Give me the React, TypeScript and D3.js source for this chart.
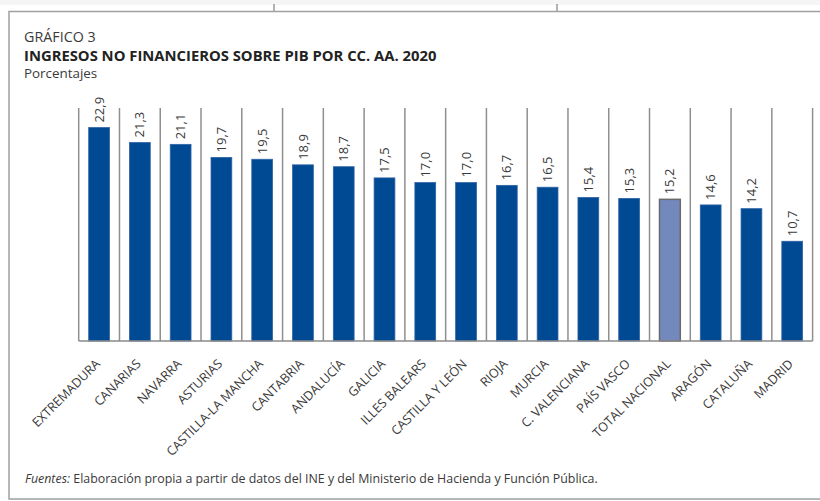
import React, { useEffect } from 'react';
import * as d3 from 'd3';

// Comunidades autónomas (orden del gráfico)
const regions = [
  'EXTREMADURA', 'CANARIAS', 'NAVARRA', 'ASTURIAS', 'CASTILLA-LA MANCHA', 'CANTABRIA',
  'ANDALUCÍA', 'GALICIA', 'ILLES BALEARS', 'CASTILLA Y LEÓN', 'RIOJA', 'MURCIA',
  'C. VALENCIANA', 'PAÍS VASCO', 'TOTAL NACIONAL', 'ARAGÓN', 'CATALUÑA', 'MADRID',
];
// ingresos no financieros sobre PIB, %
const values = [22.9, 21.3, 21.1, 19.7, 19.5, 18.9, 18.7, 17.5, 17.0, 17.0, 16.7, 16.5, 15.4, 15.3, 15.2, 14.6, 14.2, 10.7];
const highlight = ['TOTAL NACIONAL'];

const W = 820;
const H = 501;
const FONT = '"Open Sans", "Noto Sans", sans-serif';
const TXT = '#3a3a3a';

export default function App() {
  useEffect(() => {
    document.body.style.margin = '0';
  }, []);

  const x = d3.scaleBand<string>()
    .domain(regions)
    .range([78.7, 812.6])
    .paddingInner(0.49)
    .paddingOuter(0.245);

  const y = d3.scaleLinear()
    .domain([0, 25])
    .range([341, 108]);

  const step = x.step();
  const x0 = 78.7;
  const fmt = (v: number) => d3.format('.1f')(v).replace('.', ',');

  return (
    <svg width={W} height={H} style={{ display: 'block', background: '#fff' }} fontFamily={FONT}>
      {/* tira superior de la página */}
      <rect x={0} y={0} width={W} height={5} fill="#f5f5f5" />
      <line x1={274} x2={274} y1={4} y2={11} stroke="#999" strokeWidth={1.5} />
      <line x1={557} x2={557} y1={4} y2={11} stroke="#999" strokeWidth={1.5} />

      {/* marco */}
      <path d={`M${W + 2},11.5 H9 V499 H${W + 2}`} fill="none" stroke="#a0a0a0" strokeWidth={1.5} />

      <text x={24} y={42} fontSize={14.3} fill={TXT}>GRÁFICO 3</text>
      <text x={24} y={61} fontSize={14.8} fontWeight="bold" fill="#222">INGRESOS NO FINANCIEROS SOBRE PIB POR CC. AA. 2020</text>
      <text x={24} y={78} fontSize={13.4} fill={TXT}>Porcentajes</text>

      {/* separadores verticales */}
      {d3.range(regions.length + 1).map(i => (
        <line key={'s' + i} x1={x0 + i * step} x2={x0 + i * step} y1={y(25)} y2={y(0)}
          stroke="#8f8f8f" strokeWidth={1.5} />
      ))}

      {regions.map((r, i) => {
        const isTot = highlight.includes(r);
        const bx = x(r) as number;
        return (
          <rect key={r} x={bx} y={y(values[i])} width={x.bandwidth()} height={y(0) - y(values[i])}
            fill={isTot ? '#7388bd' : '#004a93'}
            stroke={isTot ? '#6a6a6a' : '#2f63a6'} strokeWidth={isTot ? 1.5 : 0.8} />
        );
      })}

      {/* eje base */}
      <line x1={x0} x2={x0 + step * regions.length} y1={y(0)} y2={y(0)} stroke="#8a8a8a" strokeWidth={1.5} />

      {/* etiquetas de valor */}
      {regions.map((r, i) => {
        const cx = (x(r) as number) + x.bandwidth() / 2;
        return (
          <text key={'v' + r} transform={`translate(${cx},${y(values[i]) - 5}) rotate(-90)`}
            dy="0.35em" fontSize={13} fill={TXT}>{fmt(values[i])}</text>
        );
      })}

      {/* etiquetas de categoría */}
      {regions.map(r => {
        const cx = (x(r) as number) + x.bandwidth() / 2;
        return (
          <text key={'c' + r} transform={`translate(${cx - 5},${358}) rotate(-45)`}
            textAnchor="end" dy="0.75em" fontSize={12.6} fill={TXT}>{r}</text>
        );
      })}

      <text x={25} y={483} fontSize={12.4} fill={TXT}>
        <tspan fontStyle="italic">Fuentes:</tspan>
        <tspan> Elaboración propia a partir de datos del INE y del Ministerio de Hacienda y Función Pública.</tspan>
      </text>
    </svg>
  );
}
